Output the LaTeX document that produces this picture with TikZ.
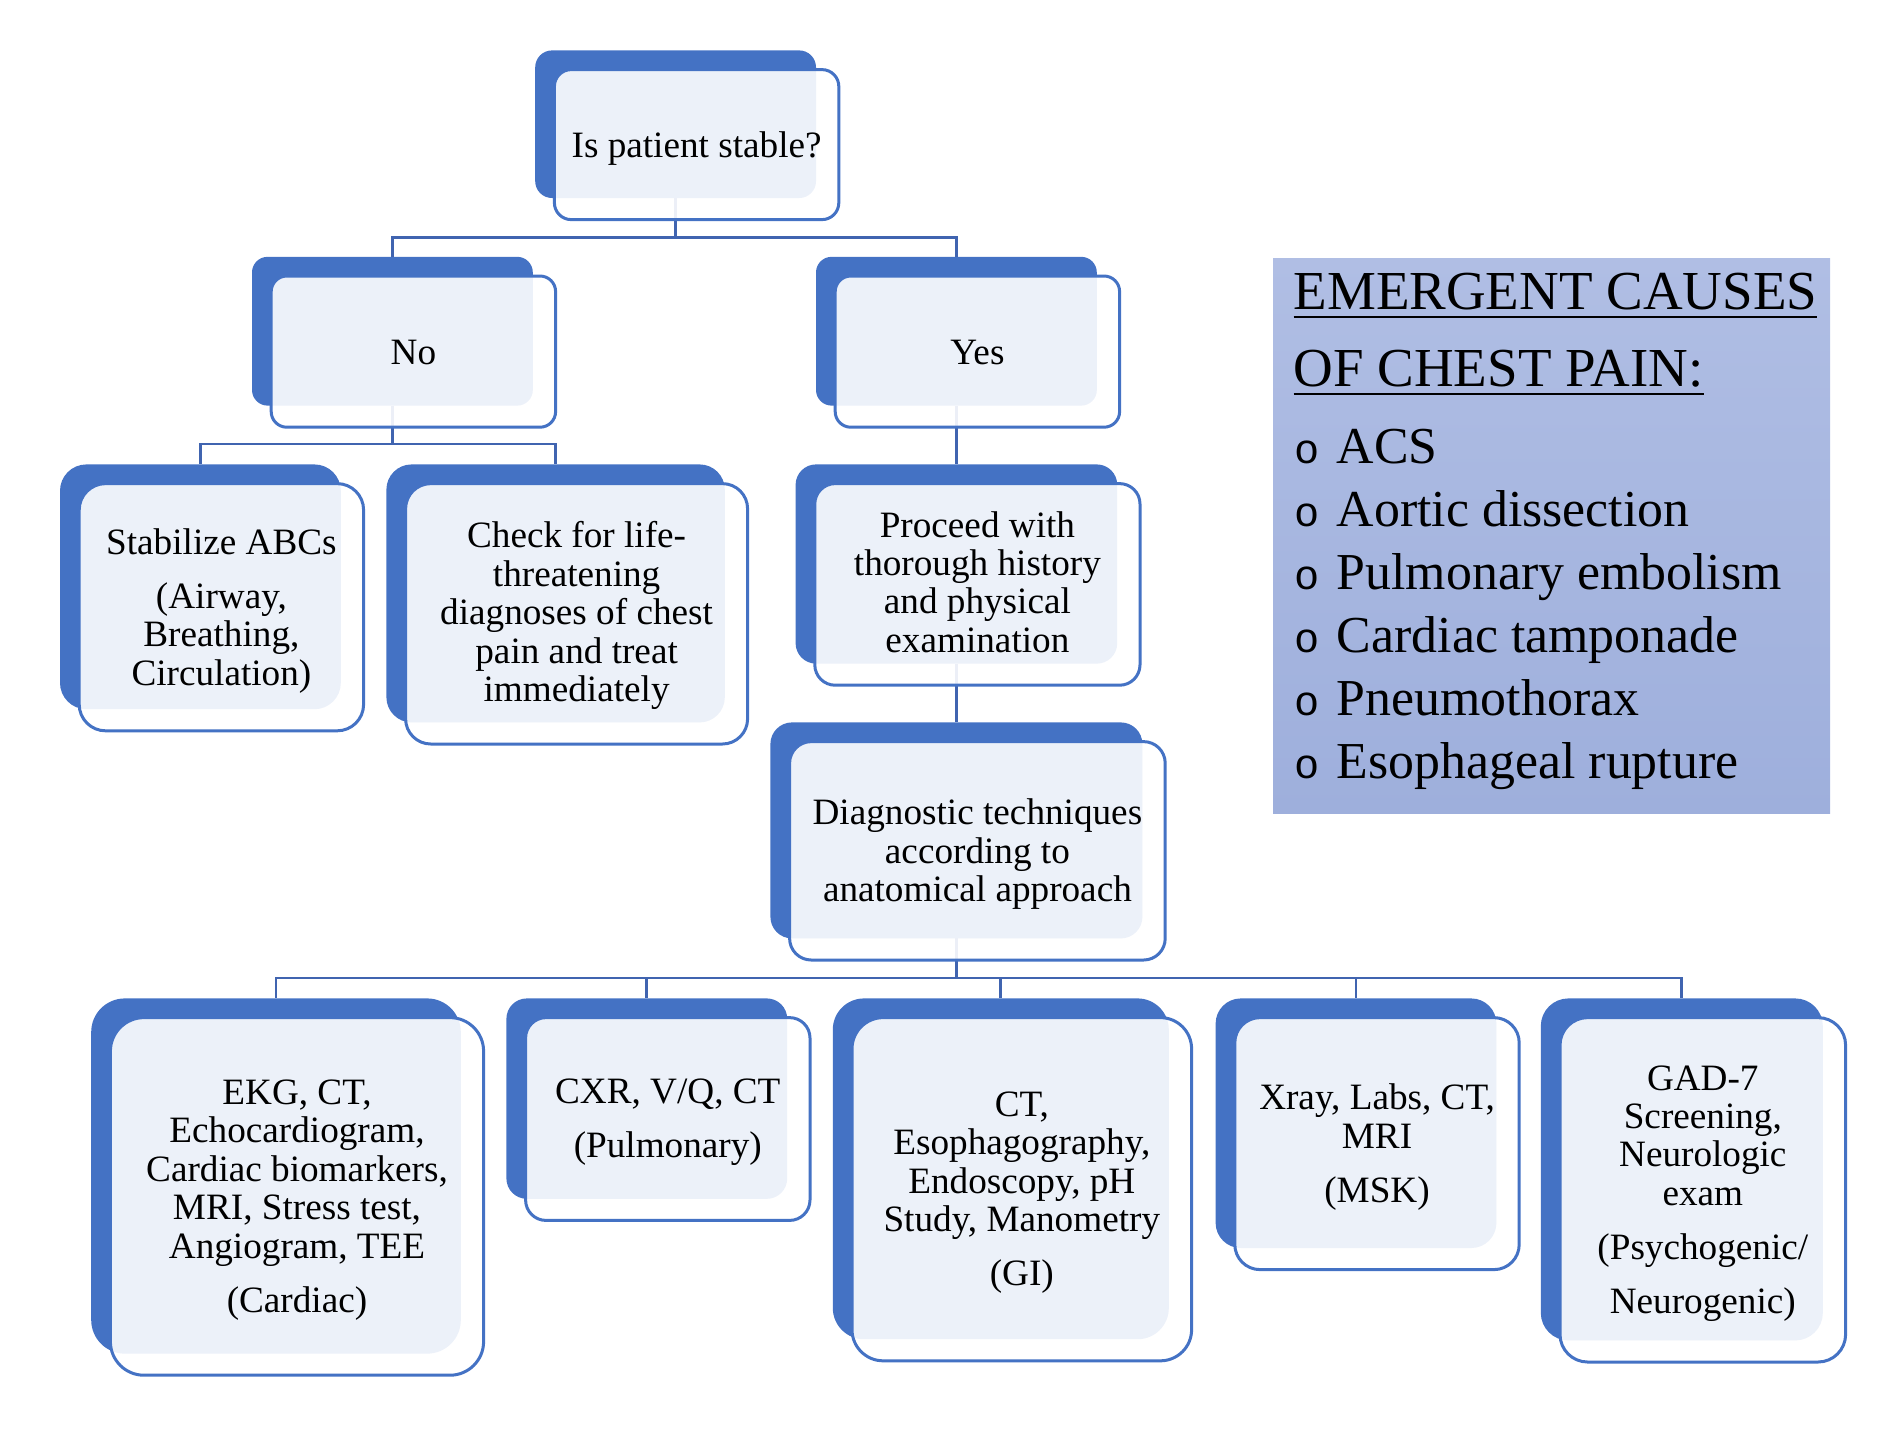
\documentclass[tikz,border=0pt]{standalone}
\usepackage{fontspec}
\setmainfont{Liberation Serif}
\newfontfamily\bulfont{Liberation Mono}
\definecolor{boxblue}{RGB}{68,114,196}
\definecolor{connblue}{RGB}{64,100,176}
\definecolor{infotop}{RGB}{176,190,228}
\definecolor{infobot}{RGB}{158,175,220}
\tikzset{
  backbox/.style={rectangle, fill=boxblue, draw=none, inner sep=0pt, outer sep=0pt},
  frontbox/.style={rectangle, fill=white, fill opacity=0.9,
    draw=boxblue, line width=1.25pt, inner sep=0pt, outer sep=0pt},
  boxtext/.style={inner sep=0pt, outer sep=0pt, align=center, text=black,
    font=\fontsize{15.5pt}{16pt}\selectfont},
  conn/.style={draw=connblue, line width=1.2pt},
  infotext/.style={anchor=base west, inner sep=0pt, outer sep=0pt, text=black},
}
\newcommand\backnode[6]{%
  \pgfmathsetmacro\bw{(#4-#2)*0.5}\pgfmathsetmacro\bh{(#5-#3)*0.5}%
  \node[backbox, rounded corners=#6, minimum width=\bw pt, minimum height=\bh pt]
    (#1) at ({(#2+#4)/2},{(#3+#5)/2}) {};}
% name x1 y1 x2 y2 radius text dy
\newcommand\frontnode[8]{%
  \pgfmathsetmacro\fw{(#4-#2+3)*0.5}\pgfmathsetmacro\fh{(#5-#3+2)*0.5}%
  \node[frontbox, rounded corners=#6, minimum width=\fw pt, minimum height=\fh pt]
    (#1) at ({(#2+#4)/2+17.5},{(#3+#5)/2+17}) {};
  \node[boxtext] (#1t) at ({(#2+#4)/2+17.5},{(#3+#5)/2+17+#8}) {#7};}
\newcommand\ulx[1]{\setbox0\hbox{#1}\rlap{\rule[-3.75pt]{\wd0}{1pt}}\box0}
\newcommand\bul{{\bulfont\fontsize{17.5pt}{20pt}\selectfont o}\hspace{7pt}}
\begin{document}
\begin{tikzpicture}[x=0.5pt,y=-0.5pt]
\useasboundingbox (0,0) rectangle (1567.5,1196);
% back boxes
\backnode{topB}{446}{42}{680}{165}{7pt}
\backnode{noB}{210}{214}{444}{338}{6.5pt}
\backnode{yesB}{680}{214}{914}{338}{6.5pt}
\backnode{stabB}{50}{387}{284}{591}{11pt}
\backnode{checkB}{322}{387}{604}{602}{10.5pt}
\backnode{procB}{663}{387}{931}{553}{8.5pt}
\backnode{diagB}{642}{602}{952}{782}{9pt}
\backnode{cardB}{76}{832}{384}{1128}{14pt}
\backnode{pulmB}{422}{832}{656}{999}{8.5pt}
\backnode{giB}{694}{832}{974}{1116}{13pt}
\backnode{mskB}{1013}{832}{1247}{1040}{10.5pt}
\backnode{psyB}{1284}{832}{1519}{1117}{11.5pt}
% connectors
\draw[conn] (topB.south) -- ++(0,33) -| (noB.north);
\draw[conn] (topB.south) -- ++(0,33) -| (yesB.north);
\draw[conn] (noB.south) -- ++(0,32) -| (stabB.north);
\draw[conn] (noB.south) -- ++(0,32) -| (checkB.north);
\draw[conn] (yesB.south) -- (procB.north);
\draw[conn] (procB.south) -- (diagB.north);
\foreach \c in {cardB,pulmB,giB,mskB,psyB}
  \draw[conn] (diagB.south) -- ++(0,33) -| (\c.north);
% front boxes with text
\frontnode{top}{446}{42}{680}{165}{7pt}{Is patient stable?}{3}
\frontnode{no}{210}{214}{444}{338}{6.5pt}{No}{1}
\frontnode{yes}{680}{214}{914}{338}{6.5pt}{Yes}{1}
\frontnode{stab}{50}{387}{284}{591}{11pt}{Stabilize ABCs\\[6.5pt](Airway,\\Breathing,\\Circulation)}{3}
\frontnode{check}{322}{387}{604}{602}{10.5pt}{Check for life-\\threatening\\diagnoses of chest\\pain and treat\\immediately}{1.5}
\frontnode{proc}{663}{387}{931}{553}{8.5pt}{Proceed with\\thorough history\\and physical\\examination}{-2}
\frontnode{diag}{642}{602}{952}{782}{9pt}{Diagnostic techniques\\according to\\anatomical approach}{3}
\frontnode{card}{76}{832}{384}{1128}{14pt}{EKG, CT,\\Echocardiogram,\\Cardiac biomarkers,\\MRI, Stress test,\\Angiogram, TEE\\[6.5pt](Cardiac)}{3}
\frontnode{pulm}{422}{832}{656}{999}{8.5pt}{CXR, V/Q, CT\\[6.5pt](Pulmonary)}{3}
\frontnode{gi}{694}{832}{974}{1116}{13pt}{CT,\\Esophagography,\\Endoscopy, pH\\Study, Manometry\\[6.5pt](GI)}{3}
\frontnode{msk}{1013}{832}{1247}{1040}{10.5pt}{Xray, Labs, CT,\\MRI\\[6.5pt](MSK)}{3}
\frontnode{psy}{1284}{832}{1519}{1117}{11.5pt}{GAD-7\\Screening,\\Neurologic\\exam\\[6.5pt](Psychogenic/\\[6.5pt]Neurogenic)}{3}
% info box
\node[anchor=north west, inner sep=0pt, outer sep=0pt, minimum width=232pt,
  minimum height=231.25pt, top color=infotop, bottom color=infobot, draw=none]
  (info) at (1061,215) {};
\begin{scope}[every node/.style={infotext}]
\node[font=\fontsize{22.9pt}{26pt}\selectfont] (h1) at (1078,257.5) {\ulx{EMERGENT CAUSES}};
\node[font=\fontsize{22.9pt}{26pt}\selectfont] (h2) at (1078,322) {\ulx{OF CHEST PAIN:}};
\node[font=\fontsize{21.6pt}{26pt}\selectfont] (b1) at (1079,386) {\bul ACS};
\node[font=\fontsize{21.6pt}{26pt}\selectfont] (b2) at (1079,438.6) {\bul Aortic dissection};
\node[font=\fontsize{21.6pt}{26pt}\selectfont] (b3) at (1079,491.2) {\bul Pulmonary embolism};
\node[font=\fontsize{21.6pt}{26pt}\selectfont] (b4) at (1079,543.8) {\bul Cardiac tamponade};
\node[font=\fontsize{21.6pt}{26pt}\selectfont] (b5) at (1079,596.4) {\bul Pneumothorax};
\node[font=\fontsize{21.6pt}{26pt}\selectfont] (b6) at (1079,649) {\bul Esophageal rupture};
\end{scope}
\end{tikzpicture}
\end{document}
